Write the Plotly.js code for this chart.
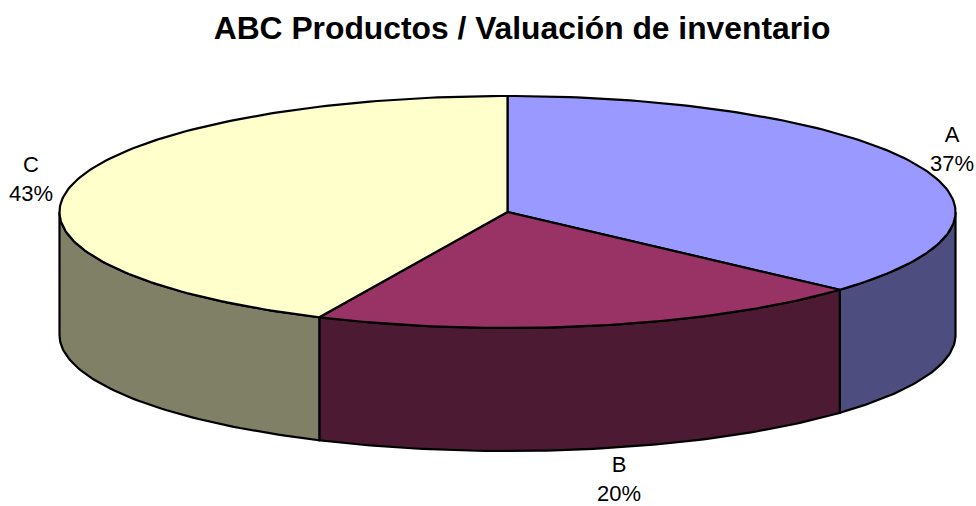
<!DOCTYPE html>
<html><head><meta charset="utf-8">
<script src="https://cdn.plot.ly/plotly-3.0.1.min.js"></script>
<style>html,body{margin:0;padding:0;background:#fff}</style></head>
<body><div id="chart" style="width:976px;height:506px"></div>
<script>
const categories = ['A', 'B', 'C'];
const shares = [36.7, 20.2, 43.1];
const shownPercent = ['37%', '20%', '43%'];
const topColors = ['#9999FF', '#993366', '#FFFFCC'];
const sideColors = ['#4D4D80', '#4D1A33', '#808066'];
const titleText = 'ABC Productos / Valuación de inventario';
const labelSpots = [[952, 149], [619, 479], [31, 179]];

// pie projection
const cx = 507.5, cy = 212, rx = 448, ry = 116, depth = 123;
const px = a => cx + rx * Math.sin(a);
const py = a => cy - ry * Math.cos(a);
const rad = d => d * Math.PI / 180;

const total = shares.reduce((s, v) => s + v, 0);
let running = 0;
const slices = shares.map(v => {
  const s = running / total * 360; running += v;
  return {start: s, end: running / total * 360};
});
function arc(a0, a1) {
  const out = [];
  const n = Math.max(2, Math.ceil(Math.abs(a1 - a0)));
  for (let i = 0; i <= n; i++) out.push(a0 + (a1 - a0) * i / n);
  return out;
}
const traces = [];
const line = {color: '#000', width: 2.2, shape: 'linear'};
slices.forEach((sl, i) => {
  const a0 = Math.max(sl.start, 90), a1 = Math.min(sl.end, 270);
  if (a1 > a0) {
    const f = arc(a0, a1), b = arc(a1, a0);
    traces.push({type: 'scatter', mode: 'lines', fill: 'toself', fillcolor: sideColors[i], line,
      x: [...f.map(d => px(rad(d))), ...b.map(d => px(rad(d))), px(rad(a0))],
      y: [...f.map(d => py(rad(d))), ...b.map(d => py(rad(d)) + depth), py(rad(a0))],
      hoverinfo: 'skip', showlegend: false});
  }
});
slices.forEach((sl, i) => {
  const f = arc(sl.start, sl.end);
  traces.push({type: 'scatter', mode: 'lines', fill: 'toself', fillcolor: topColors[i], line,
    x: [cx, ...f.map(d => px(rad(d))), cx],
    y: [cy, ...f.map(d => py(rad(d))), cy],
    name: categories[i], hoverinfo: 'name', showlegend: false});
});
const annotations = categories.map((c, i) => ({
  x: labelSpots[i][0], y: labelSpots[i][1], xref: 'x', yref: 'y', showarrow: false,
  text: c + '<br>' + shownPercent[i], align: 'center', borderpad: 0,
  font: {family: 'Liberation Sans, Arial, sans-serif', size: 22, color: '#000'}
}));
const layout = {
  width: 976, height: 506, margin: {l: 0, r: 0, t: 0, b: 0},
  paper_bgcolor: '#fff', plot_bgcolor: '#fff', showlegend: false,
  title: {text: '<b>' + titleText + '</b>', x: 522 / 976, xanchor: 'center', y: 1 - 28 / 506, yanchor: 'middle',
    font: {family: 'Liberation Sans, Arial, sans-serif', size: 31.8, color: '#000'}},
  xaxis: {range: [0, 976], visible: false, fixedrange: true},
  yaxis: {range: [506, 0], visible: false, fixedrange: true},
  annotations
};
Plotly.newPlot('chart', traces, layout, {displayModeBar: false, staticPlot: true});
</script></body></html>
